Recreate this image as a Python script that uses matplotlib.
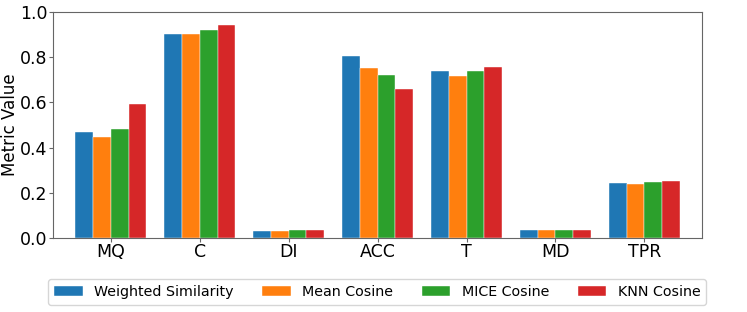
import matplotlib
matplotlib.use("Agg")
import matplotlib.pyplot as plt
import numpy as np

categories = ["MQ", "C", "DI", "ACC", "T", "MD", "TPR"]
series_names = ["Weighted Similarity", "Mean Cosine", "MICE Cosine", "KNN Cosine"]
weighted_similarity = [0.468, 0.901, 0.031, 0.803, 0.738, 0.037, 0.246]
mean_cosine = [0.446, 0.901, 0.032, 0.751, 0.716, 0.035, 0.240]
mice_cosine = [0.481, 0.921, 0.035, 0.719, 0.740, 0.037, 0.247]
knn_cosine = [0.594, 0.941, 0.038, 0.657, 0.754, 0.037, 0.251]
colors = ["#1f77b4", "#ff7f0e", "#2ca02c", "#d62728"]

fig = plt.figure(figsize=(7.47, 3.12), dpi=100)
ax = fig.add_axes([0.071, 0.236, 0.869, 0.7265])

x = np.arange(len(categories))
w = 0.2
all_series = [weighted_similarity, mean_cosine, mice_cosine, knn_cosine]
for i, (name, vals) in enumerate(zip(series_names, all_series)):
    ax.bar(x + (i - 1.5) * w, vals, w, label=name, color=colors[i],
           edgecolor="white", linewidth=0.3)

ax.set_xlim(-0.65, 6.65)
ax.set_ylim(0, 1.0)
ax.set_xticks(x)
ax.set_xticklabels(categories, fontsize=12.5)
ax.set_yticks([0.0, 0.2, 0.4, 0.6, 0.8, 1.0])
ax.tick_params(axis="y", labelsize=12.5, length=3, pad=1, color="#666666")
ax.tick_params(axis="x", length=3, pad=0.5, color="#666666")
ax.set_ylabel("Metric Value", fontsize=12, labelpad=0.5)
for s in ax.spines.values():
    s.set_color("#666666")

fig.legend(loc="center", bbox_to_anchor=(0.505, 0.064), ncol=4, fontsize=10.3,
           frameon=True)

fig.savefig("out.png", dpi=100)
